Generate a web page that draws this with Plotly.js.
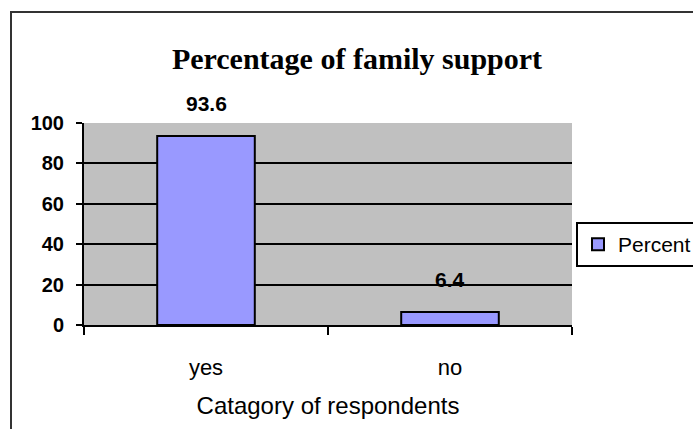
<!DOCTYPE html>
<html>
<head>
<meta charset="utf-8">
<script src="https://cdn.plot.ly/plotly-3.0.1.min.js"></script>
<style>
html,body{margin:0;padding:0;background:#fff;}
#wrap{position:relative;width:693px;height:429px;overflow:hidden;}
#chart{position:absolute;left:0;top:0;width:693px;height:429px;}
#frame{position:absolute;left:10px;top:11px;width:760px;height:500px;border:2px solid #333;pointer-events:none;}
</style>
</head>
<body>
<div id="wrap"><div id="chart"></div><div id="frame"></div></div>
<script>
const categories = ["yes", "no"];
const percentValues = [93.6, 6.4];
const seriesName = "Percent";
const yTickValues = [0, 20, 40, 60, 80, 100];
const chartTitle = "Percentage of family support";
const xAxisTitle = "Catagory of respondents";

const sans = "Liberation Sans, Arial, sans-serif";

const trace = {
  type: "bar",
  x: categories,
  y: percentValues,
  name: seriesName,
  width: 0.4,
  marker: {color: "#9999ff", line: {color: "#000", width: 2}},
  showlegend: true,
  hoverinfo: "x+y"
};

const annotations = categories.map((c, i) => ({
  x: c, y: percentValues[i], xref: "x", yref: "y",
  text: String(percentValues[i]),
  showarrow: false, yanchor: "bottom", yshift: 19,
  font: {family: sans, size: 21, color: "#000", weight: "bold"}
}));

const layout = {
  width: 693, height: 429,
  margin: {l: 84, r: 121, t: 123, b: 104, pad: 0, autoexpand: false},
  paper_bgcolor: "#fff",
  plot_bgcolor: "#c0c0c0",
  title: {
    text: chartTitle,
    font: {family: "Liberation Serif, Times New Roman, serif", size: 30, color: "#000", weight: "bold"},
    x: 357/693, xanchor: "center", xref: "container",
    y: 1 - 58/429, yanchor: "middle", yref: "container"
  },
  xaxis: {
    type: "category",
    showline: true, linecolor: "#000", linewidth: 2,
    ticks: "outside", tickson: "boundaries", ticklen: 8, tickwidth: 2, tickcolor: "#000",
    ticklabelstandoff: 22,
    tickfont: {family: sans, size: 22, color: "#000"},
    title: {text: xAxisTitle, font: {family: sans, size: 24, color: "#000"}, standoff: 18},
    showgrid: false, zeroline: false
  },
  yaxis: {
    range: [0, 100], tickvals: yTickValues,
    showline: true, linecolor: "#000", linewidth: 2,
    ticks: "outside", ticklen: 6, tickwidth: 2, tickcolor: "#000",
    ticklabelstandoff: 8,
    tickfont: {family: sans, size: 20, color: "#000", weight: "bold"},
    showgrid: true, gridcolor: "#000", gridwidth: 2,
    zeroline: false
  },
  legend: {
    x: (576 - 84) / 488, xanchor: "left", y: (325 - 244.5) / 202, yanchor: "middle",
    bgcolor: "#fff", bordercolor: "#000", borderwidth: 2,
    font: {family: sans, size: 21, color: "#000"},
    itemwidth: 30
  },
  annotations: annotations,
  showlegend: true
};

Plotly.newPlot("chart", [trace], layout, {displayModeBar: false, staticPlot: true});
</script>
</body>
</html>
